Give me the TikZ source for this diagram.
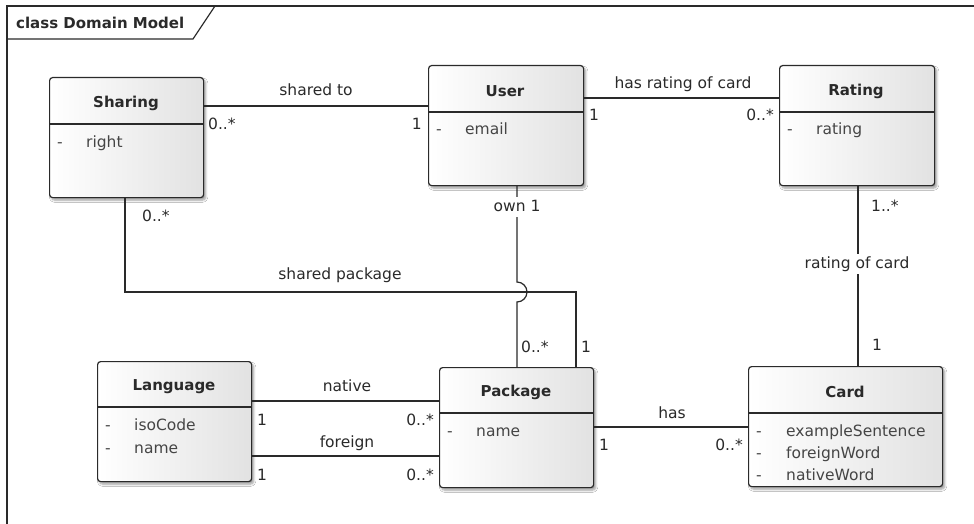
\documentclass[tikz,border=0pt]{standalone}
\usepackage{fontspec}
\setmainfont{DejaVu Sans}
\usetikzlibrary{shadows.blur}

\definecolor{ink}{HTML}{2A2A2A}
\definecolor{attrink}{HTML}{454545}
\definecolor{boxfill}{HTML}{E2E2E2}

\tikzset{
  classbox/.style={draw=ink, line width=1.2pt, rounded corners=3pt,
    left color=white, right color=boxfill, anchor=north west,
    inner sep=0pt, minimum height=120pt,
    blur shadow={shadow xshift=2pt, shadow yshift=-2.5pt,
      shadow blur steps=6, shadow opacity=40}},
  divider/.style={draw=ink, line width=1.2pt},
  ctitle/.style={font=\fontsize{15}{18}\selectfont\bfseries, text=ink, inner sep=0pt},
  attr/.style={font=\fontsize{15.5}{18}\selectfont, text=attrink, inner sep=0pt,
    anchor=west, text height=11pt, text depth=3pt},
  assoc/.style={draw=ink, line width=1.2pt},
  rolelabel/.style={font=\fontsize{15.5}{18}\selectfont, text=ink, inner sep=0pt,
    text height=11pt, text depth=3pt},
  mult/.style={font=\fontsize{15.5}{18}\selectfont, text=ink, inner sep=0pt,
    text height=11pt, text depth=3pt},
  onwhite/.style={fill=white, inner xsep=2pt, inner ysep=3pt},
}

\begin{document}
\begin{tikzpicture}[x=1pt, y=-1pt]
\useasboundingbox (0,0) rectangle (974,524);
\fill[white] (0,0) rectangle (974,524);

% diagram frame with its name tab
\draw[ink, line width=1.2pt] (7,524) -- (7,6) -- (974,6);
\draw[ink, line width=1.2pt] (7,39) -- (193,39) -- (215,6);
\node[ctitle, anchor=west] (frametitle) at (16,23) {class Domain Model};

% classes
\node[classbox, minimum width=154pt] (sharing)  at (49,77)   {};
\node[classbox, minimum width=155pt] (user)     at (428,65)  {};
\node[classbox, minimum width=155pt] (rating)   at (779,65)  {};
\node[classbox, minimum width=154pt] (language) at (97,361)  {};
\node[classbox, minimum width=154pt] (package)  at (439,367) {};
\node[classbox, minimum width=194pt] (card)     at (748,366) {};

% compartment dividers
\draw[divider] (sharing.west |- 0,124)  -- (sharing.east |- 0,124);
\draw[divider] (user.west |- 0,112)     -- (user.east |- 0,112);
\draw[divider] (rating.west |- 0,112)   -- (rating.east |- 0,112);
\draw[divider] (language.west |- 0,407) -- (language.east |- 0,407);
\draw[divider] (package.west |- 0,413)  -- (package.east |- 0,413);
\draw[divider] (card.west |- 0,413)     -- (card.east |- 0,413);

% class names
\node[ctitle] (sharingname)  at (126,103) {Sharing};
\node[ctitle] (username)     at (505,91)  {User};
\node[ctitle] (ratingname)   at (856,91)  {Rating};
\node[ctitle] (languagename) at (174,387) {Language};
\node[ctitle] (packagename)  at (516,392) {Package};
\node[ctitle] (cardname)     at (845,392) {Card};

% attributes
\node[attr] (sh-d1) at (57,143) {-};   \node[attr] (sh-a1) at (86,143) {right};
\node[attr] (us-d1) at (436,131) {-};  \node[attr] (us-a1) at (465,131) {email};
\node[attr] (ra-d1) at (787,131) {-};  \node[attr] (ra-a1) at (816,131) {rating};
\node[attr] (la-d1) at (105,426) {-};  \node[attr] (la-a1) at (134,426) {isoCode};
\node[attr] (la-d2) at (105,449) {-};  \node[attr] (la-a2) at (134,449) {name};
\node[attr] (pa-d1) at (447,432) {-};  \node[attr] (pa-a1) at (476,432) {name};
\node[attr] (ca-d1) at (756,432) {-};  \node[attr] (ca-a1) at (786,432) {exampleSentence};
\node[attr] (ca-d2) at (756,454) {-};  \node[attr] (ca-a2) at (786,454) {foreignWord};
\node[attr] (ca-d3) at (756,476) {-};  \node[attr] (ca-a3) at (786,476) {nativeWord};

% Sharing -- User : shared to
\draw[assoc] (sharing.east |- 0,106) -- (user.west |- 0,106);
\node[rolelabel] (sharedto) at (316,92) {shared to};
\node[mult, anchor=west] (m-sh1) at (208,125) {0..*};
\node[mult, anchor=east] (m-sh2) at (422,125) {1};

% User -- Rating : has rating of card
\draw[assoc] (user.east |- 0,98) -- (rating.west |- 0,98);
\node[rolelabel] (hasrating) at (683,85) {has rating of card};
\node[mult, anchor=west] (m-ur1) at (589,117) {1};
\node[mult, anchor=east] (m-ur2) at (774,117) {0..*};

% Sharing -- Package : shared package
\coordinate (sp1) at (125,292);
\coordinate (sp2) at (576,292);
\draw[assoc] (sharing.south -| sp1) -- (sp1) -- (sp2) -- (package.north -| sp2);
\node[rolelabel] (sharedpkg) at (340,275) {shared package};
\node[mult, anchor=west] (m-sp1) at (142,217) {0..*};
\node[mult, anchor=west] (m-sp2) at (581,348) {1};

% User -- Package : own (hops over the shared package line)
\coordinate (ow1) at (517,282);
\draw[assoc] (user.south -| ow1) -- (ow1)
  arc[start angle=90, end angle=-90, radius=10pt] -- (package.north -| ow1);
\node[rolelabel, onwhite] (own) at (517,207) {own 1};
\node[mult, anchor=west] (m-ow2) at (521,348) {0..*};

% Rating -- Card : rating of card
\coordinate (rc) at (858,0);
\draw[assoc] (rating.south -| rc) -- (card.north -| rc);
\node[rolelabel, onwhite] (ratingofcard) at (857,264) {rating of card};
\node[mult, anchor=west] (m-rc1) at (871,207) {1..*};
\node[mult, anchor=west] (m-rc2) at (872,346) {1};

% Language -- Package : native / foreign
\draw[assoc] (language.east |- 0,401) -- (package.west |- 0,401);
\node[rolelabel] (native) at (347,387) {native};
\node[mult, anchor=west] (m-n1) at (257,421) {1};
\node[mult, anchor=east] (m-n2) at (434,421) {0..*};

\draw[assoc] (language.east |- 0,456) -- (package.west |- 0,456);
\node[rolelabel] (foreign) at (347,443) {foreign};
\node[mult, anchor=west] (m-f1) at (257,476) {1};
\node[mult, anchor=east] (m-f2) at (434,476) {0..*};

% Package -- Card : has
\draw[assoc] (package.east |- 0,427) -- (card.west |- 0,427);
\node[rolelabel] (has) at (672,414) {has};
\node[mult, anchor=west] (m-h1) at (599,446) {1};
\node[mult, anchor=east] (m-h2) at (743,446) {0..*};
\end{tikzpicture}
\end{document}
